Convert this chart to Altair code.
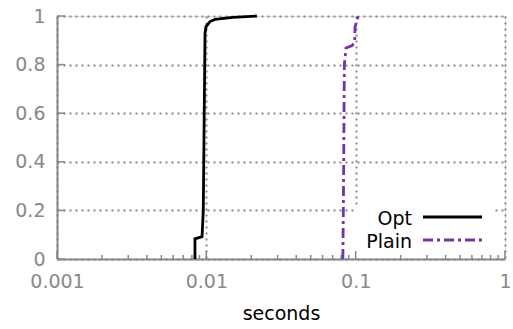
import altair as alt
import pandas as pd

# Cumulative distribution of request latency (seconds) for two builds
opt_seconds = [0.00839, 0.00839, 0.00936, 0.00954, 0.0098, 0.00995, 0.01059, 0.01144, 0.0150, 0.02176]
opt_cdf = [0.0, 0.083, 0.092, 0.2, 0.929, 0.956, 0.977, 0.986, 0.994, 1.0]
plain_seconds = [0.0821, 0.0827, 0.0840, 0.0862, 0.0946, 0.0985, 0.0990, 0.1040]
plain_cdf = [0.0, 0.2, 0.8, 0.868, 0.878, 0.895, 0.955, 1.0]

x_major = [0.001, 0.01, 0.1, 1]
x_minor = [m * d for d in (0.001, 0.01, 0.1) for m in range(2, 10)]
y_ticks = [0, 0.2, 0.4, 0.6, 0.8, 1.0]
series_names = ["Opt", "Plain"]

W, H = 448, 243
GRAY = "#888888"
FONT = "DejaVu Sans"
FS = 19
PURPLE = "#7434a8"
DASH = [10, 4, 3, 4]

xscale = alt.Scale(type="log", domain=[0.001, 1], nice=False)
yscale = alt.Scale(domain=[0, 1], nice=False)

opt_df = pd.DataFrame({"s": opt_seconds, "p": opt_cdf, "i": range(len(opt_seconds))})
plain_df = pd.DataFrame({"s": plain_seconds, "p": plain_cdf, "i": range(len(plain_seconds))})
one = pd.DataFrame({"k": [0]})

xaxis = alt.Axis(
    values=x_major, format="~g", grid=True, gridDash=[2, 4], gridColor=GRAY, gridWidth=2,
    ticks=False, domainColor=GRAY, domainWidth=2, labelColor=GRAY, labelFont=FONT,
    labelFontSize=FS, labelPadding=13, labelOverlap=False, labelFlush=False,
    title="seconds", titleFont=FONT, titleFontSize=FS, titleFontWeight="normal",
    titleColor="black", titlePadding=13,
)
yaxis = alt.Axis(
    values=y_ticks, format="~g", grid=True, gridDash=[2, 4], gridColor=GRAY, gridWidth=2,
    ticks=False, domainColor=GRAY, domainWidth=2, labelColor=GRAY, labelFont=FONT,
    labelFontSize=FS, labelPadding=12, labelOverlap=False, labelFlush=False, title=None,
)

# Base layer carrying the axes and grid
base = alt.Chart(opt_df).mark_line(opacity=0).encode(
    x=alt.X("s:Q", scale=xscale, axis=xaxis),
    y=alt.Y("p:Q", scale=yscale, axis=yaxis),
)

# Opaque key box hides the grid behind it
key_box = alt.Chart(one).mark_rect(color="white").encode(
    x=alt.value(298), x2=alt.value(438), y=alt.value(191), y2=alt.value(242)
)

# Inward tick marks
major_x = alt.Chart(pd.DataFrame({"t": x_major})).mark_rule(color=GRAY, strokeWidth=1.5).encode(
    x=alt.X("t:Q", scale=xscale), y=alt.value(H), y2=alt.value(H - 8)
)
minor_x = alt.Chart(pd.DataFrame({"t": x_minor})).mark_rule(color=GRAY, strokeWidth=1.5).encode(
    x=alt.X("t:Q", scale=xscale), y=alt.value(H), y2=alt.value(H - 4)
)
major_y = alt.Chart(pd.DataFrame({"t": y_ticks})).mark_rule(color=GRAY, strokeWidth=1.5).encode(
    y=alt.Y("t:Q", scale=yscale), x=alt.value(0), x2=alt.value(8)
)

opt_line = alt.Chart(opt_df).mark_line(color="black", strokeWidth=2.8).encode(
    x=alt.X("s:Q", scale=xscale), y=alt.Y("p:Q", scale=yscale), order="i:Q"
)
plain_line = alt.Chart(plain_df).mark_line(
    color=PURPLE, strokeWidth=2.8, strokeDash=DASH, strokeCap="butt"
).encode(x=alt.X("s:Q", scale=xscale), y=alt.Y("p:Q", scale=yscale), order="i:Q")

# Key entries
opt_label = alt.Chart(one).mark_text(
    text=series_names[0], align="right", baseline="alphabetic", font=FONT, fontSize=FS, color="black"
).encode(x=alt.value(355), y=alt.value(209))
plain_label = alt.Chart(one).mark_text(
    text=series_names[1], align="right", baseline="alphabetic", font=FONT, fontSize=FS, color="black"
).encode(x=alt.value(355), y=alt.value(232))
opt_sample = alt.Chart(one).mark_rule(color="black", strokeWidth=2.8).encode(
    x=alt.value(366), x2=alt.value(425), y=alt.value(201)
)
plain_sample = alt.Chart(one).mark_rule(
    color=PURPLE, strokeWidth=2.8, strokeDash=DASH, strokeCap="butt"
).encode(x=alt.value(366), x2=alt.value(425), y=alt.value(224))

chart = alt.layer(
    base, key_box, major_x, minor_x, major_y, opt_line, plain_line,
    opt_label, plain_label, opt_sample, plain_sample,
).properties(
    width=W, height=H,
    autosize=alt.AutoSizeParams(type="none"),
    padding={"left": 57, "top": 16, "right": 8, "bottom": 70},
).configure_view(stroke=None).configure(background="white")

chart.save("out.html", embed_options={"renderer": "svg", "actions": False})
